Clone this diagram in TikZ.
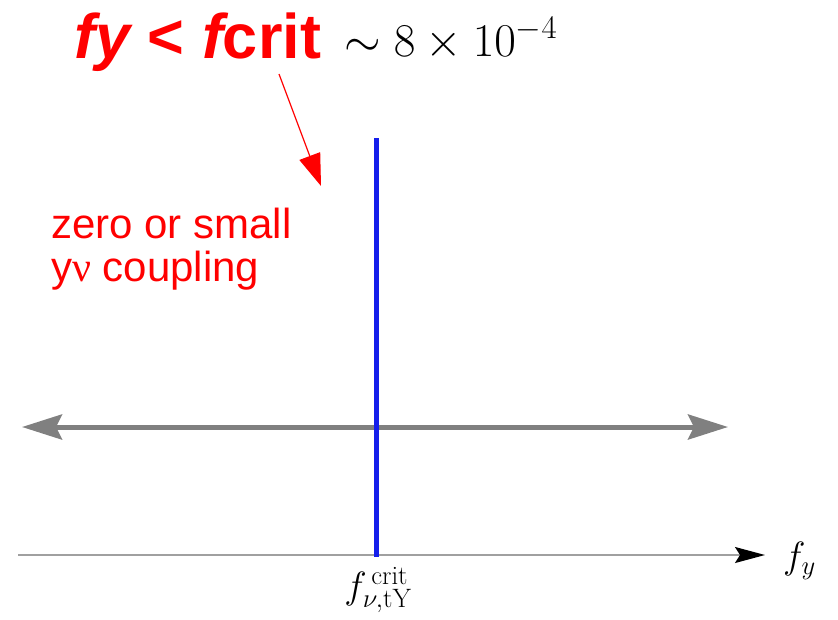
\RequirePackage{fix-cm}
\documentclass[tikz,border=0pt]{standalone}
\usepackage{fontspec}
\usepackage{amsmath}
\usetikzlibrary{arrows.meta,positioning}
\newfontfamily\sansfont{Liberation Sans}
\newfontfamily\greekfont{Liberation Serif}

\begin{document}
\begin{tikzpicture}[
    x=1pt, y=-1pt,
    >=Stealth,
    redtext/.style={text=red, inner sep=0pt, font=\sansfont\fontsize{42}{43}\selectfont, align=left},
    titletext/.style={text=red, inner sep=0pt, font=\sansfont\bfseries\fontsize{63}{65}\selectfont},
    mathlabel/.style={inner sep=0pt, font=\fontsize{38}{40}\selectfont},
    critline/.style={line width=5pt, draw={rgb,255:red,20;green,30;blue,235}},
    rangearrow/.style={{Stealth[length=40pt,width=25pt,inset=6pt]}-{Stealth[length=40pt,width=25pt,inset=6pt]}, line width=5pt, draw={rgb,255:red,128;green,128;blue,128}},
    axis/.style={-{Stealth[length=30pt,width=16pt,inset=5pt,black]}, line width=1.5pt, draw={rgb,255:red,160;green,160;blue,160}},
    pointer/.style={-{Triangle[length=32pt,width=22pt]}, line width=1.2pt, red}
]
\useasboundingbox (0,0) rectangle (838,619);

% title: condition on f_y and the critical value
\node[titletext, anchor=base west] (title) at (74,58)
    {{\itshape fy} < {\itshape f}crit};
\node[inner sep=0pt, anchor=base west, font=\fontsize{47}{49}\selectfont] (bound) at (344,56)
    {$\sim 8\times 10^{-4}$};

% red pointer down to the critical line
\coordinate (ptrstart) at (279,74);
\coordinate (ptrtip) at (321,186);
\draw[pointer] (ptrstart) -- (ptrtip);

% note on the left
\node[redtext, anchor=north west] (note) at (51,208)
    {zero or small\\y{\greekfont ν} coupling};

% horizontal f_y axis
\coordinate (axstart) at (18,555);
\coordinate (axend) at (765,555);
\draw[axis] (axstart) -- (axend);
\node[mathlabel, anchor=west] (fy) at (783,561) {$f_y$};

% allowed range, both directions
\coordinate (rangeleft) at (22,427);
\coordinate (rangeright) at (728,427);
\draw[rangearrow] (rangeleft) -- (rangeright);

% critical value
\coordinate (crittop) at (376,138);
\coordinate (critbot) at (376,557);
\draw[critline] (crittop) -- (critbot);
\node[mathlabel, anchor=north] (critlabel) at (378,567)
    {$f^{\,\mathrm{crit}}_{\nu,\mathrm{tY}}$};

\end{tikzpicture}
\end{document}
